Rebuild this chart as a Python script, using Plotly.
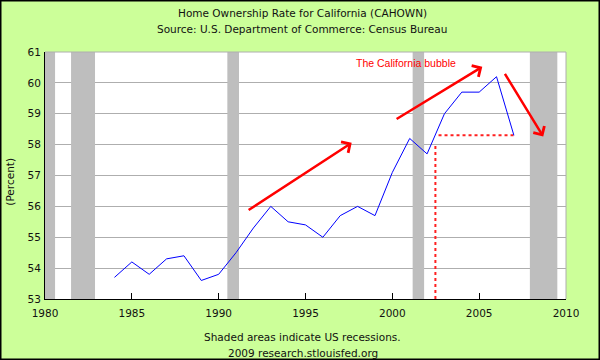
import plotly.graph_objects as go

# ---- data ----
years = list(range(1984, 2008))
ownership = [53.7, 54.2, 53.8, 54.3, 54.4, 53.6, 53.8, 54.5, 55.3, 56.0,
             55.5, 55.4, 55.0, 55.7, 56.0, 55.7, 57.1, 58.2, 57.7, 59.0,
             59.7, 59.7, 60.2, 58.3]

rec_start = [1980.0, 1981.5, 1990.5, 2001.17, 2007.92]
rec_end = [1980.58, 1982.88, 1991.17, 2001.83, 2009.5]

x_ticks = [1980, 1985, 1990, 1995, 2000, 2005, 2010]
y_ticks = [53, 54, 55, 56, 57, 58, 59, 60, 61]

arrow_tail_x = [1991.64, 2000.16, 2006.43]
arrow_tail_y = [55.85, 58.80, 60.34]
arrow_head_x = [1997.66, 2005.18, 2008.69]
arrow_head_y = [58.06, 60.52, 58.26]

vdot_x = [2002.48, 2002.48]
vdot_y = [53.0, 58.04]
hdot_x = [2002.66, 2007.0]
hdot_y = [58.3, 58.3]

bubble_label = "The California bubble"
bubble_x = 2000.81
bubble_y = 60.63

# ---- layout constants ----
W, H = 600, 360
ML, MR, MT, MB = 45, 34, 52, 61
PW, PH = W - ML - MR, H - MT - MB
BG = "#CCFF99"
REC = "#BEBEBE"
GRID = "#AEAEAE"
FONT = "DejaVu Sans"
FS = 10.5


def px_x(p):
    return (p - ML) / PW


def px_y(p):
    return (H - MB - p) / PH


fig = go.Figure()

# recession shading (above grid, below data)
for s, e in zip(rec_start, rec_end):
    fig.add_shape(type="rect", xref="x", yref="y", x0=s, x1=e, y0=53, y1=61,
                  fillcolor=REC, line_width=0, layer="between")

fig.add_trace(go.Scatter(x=vdot_x, y=vdot_y, mode="lines",
                         line=dict(color="#FF2020", width=2, dash="dot"),
                         hoverinfo="skip", showlegend=False))
fig.add_trace(go.Scatter(x=hdot_x, y=hdot_y, mode="lines",
                         line=dict(color="#FF2020", width=2, dash="dot"),
                         hoverinfo="skip", showlegend=False))

fig.add_trace(go.Scatter(x=years, y=ownership, mode="lines",
                         line=dict(color="#0000FF", width=1),
                         showlegend=False))

# arrows
for tx, ty, hx, hy in zip(arrow_tail_x, arrow_tail_y, arrow_head_x, arrow_head_y):
    fig.add_annotation(x=hx, y=hy, ax=tx, ay=ty, xref="x", yref="y",
                       axref="x", ayref="y", text="", showarrow=True,
                       arrowhead=4, arrowsize=1.0, arrowwidth=2.5,
                       arrowcolor="#FF0000", standoff=0)

fig.add_annotation(x=bubble_x, y=bubble_y, xref="x", yref="y",
                   text=bubble_label, showarrow=False,
                   font=dict(family="Liberation Sans", size=10.5, color="#FF0000"))

# titles and notes
texts = [
    ("Home Ownership Rate for California (CAHOWN)", 302, 13.4),
    ("Source: U.S. Department of Commerce: Census Bureau", 302, 28.7),
    ("Shaded areas indicate US recessions.", 302.5, 337.3),
    ("2009 research.stlouisfed.org", 302.5, 352.5),
]
for t, cx, cy in texts:
    fig.add_annotation(x=px_x(cx), y=px_y(cy), xref="paper", yref="paper",
                       text=t, showarrow=False, xanchor="center", yanchor="middle",
                       font=dict(family=FONT, size=FS, color="#111111"))

fig.add_annotation(x=px_x(10), y=px_y(181.7), xref="paper", yref="paper",
                   text="(Percent)", showarrow=False, textangle=-90,
                   xanchor="center", yanchor="middle",
                   font=dict(family=FONT, size=FS, color="#111111"))

# top and right plot border (gray)
fig.add_shape(type="line", xref="paper", yref="paper", x0=0, x1=1, y0=1, y1=1,
              line=dict(color=GRID, width=1), layer="above")
fig.add_shape(type="line", xref="paper", yref="paper", x0=1, x1=1, y0=0, y1=1,
              line=dict(color=GRID, width=1), layer="above")

# outer black frame
fig.add_shape(type="rect", xref="paper", yref="paper",
              x0=px_x(0.75), x1=px_x(W - 0.75), y0=px_y(H - 0.75), y1=px_y(0.75),
              line=dict(color="#000000", width=1.5), fillcolor="rgba(0,0,0,0)",
              layer="above")

fig.update_layout(
    width=W, height=H,
    margin=dict(l=ML, r=MR, t=MT, b=MB, pad=0),
    paper_bgcolor=BG, plot_bgcolor="#FFFFFF",
    font=dict(family=FONT, size=FS, color="#111111"),
    showlegend=False,
    xaxis=dict(range=[1980, 2010], tickvals=x_ticks, ticktext=[str(v) for v in x_ticks],
               showgrid=False, zeroline=False, showline=True, linecolor="#000000",
               linewidth=1, ticks="inside", ticklen=6, tickcolor="#000000",
               ticklabelstandoff=4,
               tickfont=dict(family=FONT, size=FS, color="#111111")),
    yaxis=dict(range=[53, 61], tickvals=y_ticks, ticktext=[str(v) for v in y_ticks],
               showgrid=True, gridcolor=GRID, gridwidth=1, zeroline=False,
               showline=True, linecolor="#000000", linewidth=1, ticks="",
               ticklabelstandoff=1,
               tickfont=dict(family=FONT, size=FS, color="#111111")),
)

fig.write_html("out.html",
               config={"displayModeBar": False},
               post_script="document.body.style.margin='0px';"
                           "document.body.style.overflow='hidden';")
